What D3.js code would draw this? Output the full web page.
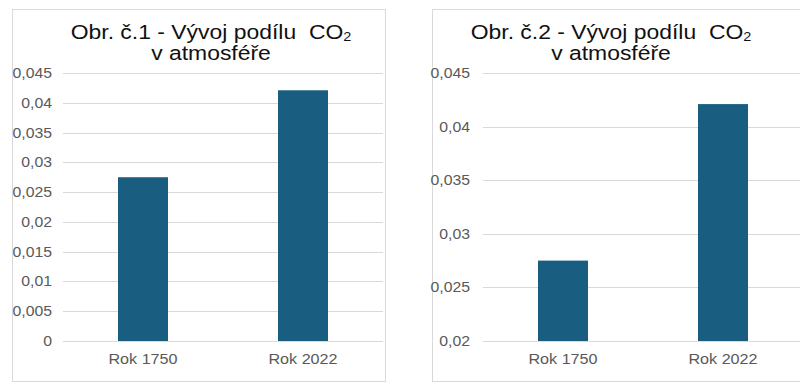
<!DOCTYPE html>
<html>
<head>
<meta charset="utf-8">
<script src="https://cdn.jsdelivr.net/npm/d3@7"></script>
<style>
  body { margin: 0; background: #fff; }
  text { font-family: "Liberation Sans", Arial, sans-serif; }
</style>
</head>
<body>
<svg id="charts" width="800" height="388"></svg>
<script>
// data
var categories = ["Rok 1750", "Rok 2022"];
var co2Share = [0.0275, 0.0421];
var yTicks1 = [0, 0.005, 0.01, 0.015, 0.02, 0.025, 0.03, 0.035, 0.04, 0.045];
var yTicks2 = [0.02, 0.025, 0.03, 0.035, 0.04, 0.045];
var titleLine1 = ["Obr. č.1 - Vývoj podílu\u00a0 CO", "Obr. č.2 - Vývoj podílu\u00a0 CO"];
var titleSub = "2";
var titleLine2 = "v atmosféře";

var barColor = "#195e80";
var gridColor = "#d9d9d9";
var labelColor = "#595959";
var sx = 1.13; // the picture is a bit stretched horizontally

var cz = d3.formatLocale({ decimal: ",", thousands: " ", grouping: [3], currency: ["", " Kč"] });
var fmt = cz.format("~g");

var svg = d3.select("#charts");

function drawChart(o) {
  var g = svg.append("g");

  //outer frame
  g.append("rect")
    .attr("x", o.frame[0] + 0.5).attr("y", 9.5)
    .attr("width", o.frame[1] - o.frame[0]).attr("height", 372)
    .attr("fill", "#fff").attr("stroke", gridColor);

  var x = d3.scaleBand().domain(categories).range([o.left, o.left + 320]).padding(0);
  var y = d3.scaleLinear().domain(o.domain).range([341, 73]);
  var barW = x.bandwidth() * 0.3125;

  //gridlines
  g.selectAll(".grid")
    .data(o.ticks)
    .enter().append("line")
    .attr("x1", o.left).attr("x2", o.left + 320)
    .attr("y1", function (d) { return Math.round(y(d)) + 0.5; })
    .attr("y2", function (d) { return Math.round(y(d)) + 0.5; })
    .attr("stroke", gridColor);

  //bars
  g.selectAll(".bar")
    .data(co2Share)
    .enter().append("rect")
    .attr("x", function (d, i) { return x(categories[i]) + (x.bandwidth() - barW) / 2; })
    .attr("y", function (d) { return y(d); })
    .attr("width", barW)
    .attr("height", function (d) { return y(o.domain[0]) - y(d); })
    .attr("fill", barColor);

  //y axis
  var yAxis = g.append("g")
    .attr("transform", "translate(" + o.left + ",0)")
    .call(d3.axisLeft(y).tickValues(o.ticks).tickFormat(fmt).tickSize(0).tickPadding(0));
  yAxis.select(".domain").remove();
  yAxis.selectAll("text")
    .attr("x", -o.labelGap / sx)
    .attr("transform", "scale(" + sx + ",1)")
    .attr("fill", labelColor)
    .style("font-size", "14px");

  //x axis
  var xAxis = g.append("g")
    .attr("transform", "translate(0,341)")
    .call(d3.axisBottom(x).tickSize(0).tickPadding(13));
  xAxis.select(".domain").remove();
  xAxis.selectAll("text")
    .attr("transform", "scale(" + sx + ",1)")
    .attr("x", 0)
    .attr("fill", labelColor)
    .style("font-size", "14.3px");

  //title, two lines in one text
  var t = g.append("text")
    .attr("transform", "translate(" + o.titleX + ",39) scale(" + sx + ",1)")
    .attr("text-anchor", "middle")
    .style("font-size", "20.3px")
    .attr("fill", "#111");
  t.append("tspan").text(o.title);
  t.append("tspan").attr("dy", 2).style("font-size", "12.8px").text(titleSub);
  t.append("tspan").attr("x", 0).attr("dy", 19).text(titleLine2);
}

drawChart({ frame: [12, 385], left: 63, domain: [0, 0.045], ticks: yTicks1, labelGap: 11, title: titleLine1[0], titleX: 211 });
drawChart({ frame: [432, 806], left: 483, domain: [0.02, 0.045], ticks: yTicks2, labelGap: 13, title: titleLine1[1], titleX: 611 });
</script>
</body>
</html>
